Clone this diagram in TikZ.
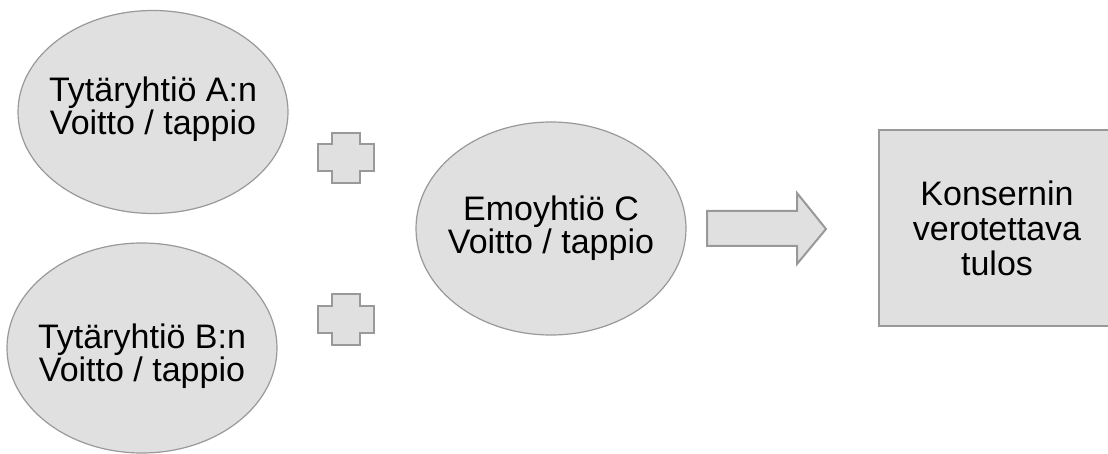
\documentclass[tikz,border=0pt]{standalone}
\usepackage{fontspec}
\setmainfont{Liberation Sans}
\usetikzlibrary{shapes.geometric}
\definecolor{shapefill}{HTML}{E0E0E0}
\definecolor{shapeline}{HTML}{999999}
\begin{document}
\begin{tikzpicture}[x=1pt,y=-1pt,
  blob/.style={ellipse, draw=shapeline, fill=shapefill, line width=1.2,
    minimum width=270pt, inner sep=0pt},
  blobtext/.style={inner sep=0pt, align=center,
    font=\fontsize{34}{30}\selectfont},
  result/.style={rectangle, draw=shapeline, fill=shapefill, line width=1.5,
    minimum width=236pt, minimum height=196pt, align=center,
    font=\fontsize{34}{35}\selectfont},
  plusmark/.style={draw=shapeline, fill=shapefill, line width=2}]
  \useasboundingbox (0,0) rectangle (1108,454);
  \clip (0,0) rectangle (1108,454);

  \node[blob, minimum height=203pt] (A) at (153,112) {};
  \node[blob, minimum height=210pt] (B) at (142,348) {};
  \node[blob, minimum height=213pt] (C) at (551,228.5) {};
  \node[blobtext] (Atext) at ([yshift=3]A.center) {Tytäryhtiö A:n\\Voitto / tappio};
  \node[blobtext] (Btext) at ([yshift=-8]B.center) {Tytäryhtiö B:n\\Voitto / tappio};
  \node[blobtext] (Ctext) at (C.center) {Emoyhtiö C\\Voitto / tappio};
  \node[result] (tulos) at (997,228) {Konsernin\\verotettava\\tulos};

  % plus signs
  \foreach \cy in {158,319.5}
    \draw[plusmark, shift={(346,\cy)}] (-14,-25) -- (14,-25) -- (14,-13.5) -- (28,-13.5)
      -- (28,13.5) -- (14,13.5) -- (14,25) -- (-14,25) -- (-14,13.5) -- (-28,13.5)
      -- (-28,-13.5) -- (-14,-13.5) -- cycle;

  % block arrow
  \draw[plusmark] (707,211) -- (797,211) -- (797,193) -- (826,229)
    -- (797,264) -- (797,246) -- (707,246) -- cycle;
\end{tikzpicture}
\end{document}
